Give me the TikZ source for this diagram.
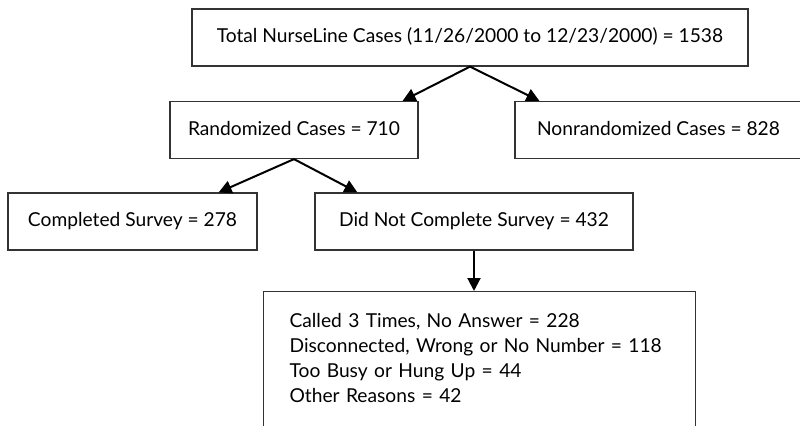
\documentclass[tikz,border=0pt]{standalone}
\usepackage{fontspec}
\setmainfont{Lato}
\usetikzlibrary{arrows.meta}

\begin{document}
\begin{tikzpicture}[x=0.5pt,y=-0.5pt]
\tikzstyle{every node}=[draw=black!80, line width=0.6pt, rectangle, inner sep=0pt, minimum height=28.5pt, text height=7pt, text depth=1.8pt, font=\fontsize{9.6}{12.5}\selectfont]
\tikzstyle{arr}=[-{Triangle[length=6.5pt,width=6.5pt]}, line width=1pt]
\useasboundingbox (0,0) rectangle (800,425);
\clip (0,0) rectangle (800,425);
\draw (470,37.5) node (total) [minimum width=278pt] {Total NurseLine Cases (11/26/2000 to 12/23/2000) = 1538};
\draw (294,130) node (rand) [minimum width=124pt] {Randomized Cases = 710};
\draw (658.5,130) node (nonrand) [minimum width=143.5pt] {Nonrandomized Cases = 828};
\draw (132.5,221.5) node (comp) [minimum width=124.5pt] {Completed Survey = 278};
\draw (474,221.5) node (notcomp) [minimum width=159pt] {Did Not Complete Survey = 432};
\draw (263,291) node (reasons) [anchor=north west, align=left, text width=190pt, inner xsep=13pt, inner ysep=11pt, text height=, text depth=55pt, minimum height=0pt] {Called 3 Times, No Answer = 228\\ \mbox{Disconnected, Wrong or No Number = 118}\\ Too Busy or Hung Up = 44\\ Other Reasons = 42};
\draw[arr] (total.south) -- ([xshift=-8pt]rand.north east);
\draw[arr] (total.south) -- ([xshift=12.5pt]nonrand.north west);
\draw[arr] (rand.south) -- ([xshift=-19.5pt]comp.north east);
\draw[arr] (rand.south) -- ([xshift=21.5pt]notcomp.north west);
\draw[arr] (notcomp.south) -- (notcomp.south |- reasons.north);
\end{tikzpicture}
\end{document}
